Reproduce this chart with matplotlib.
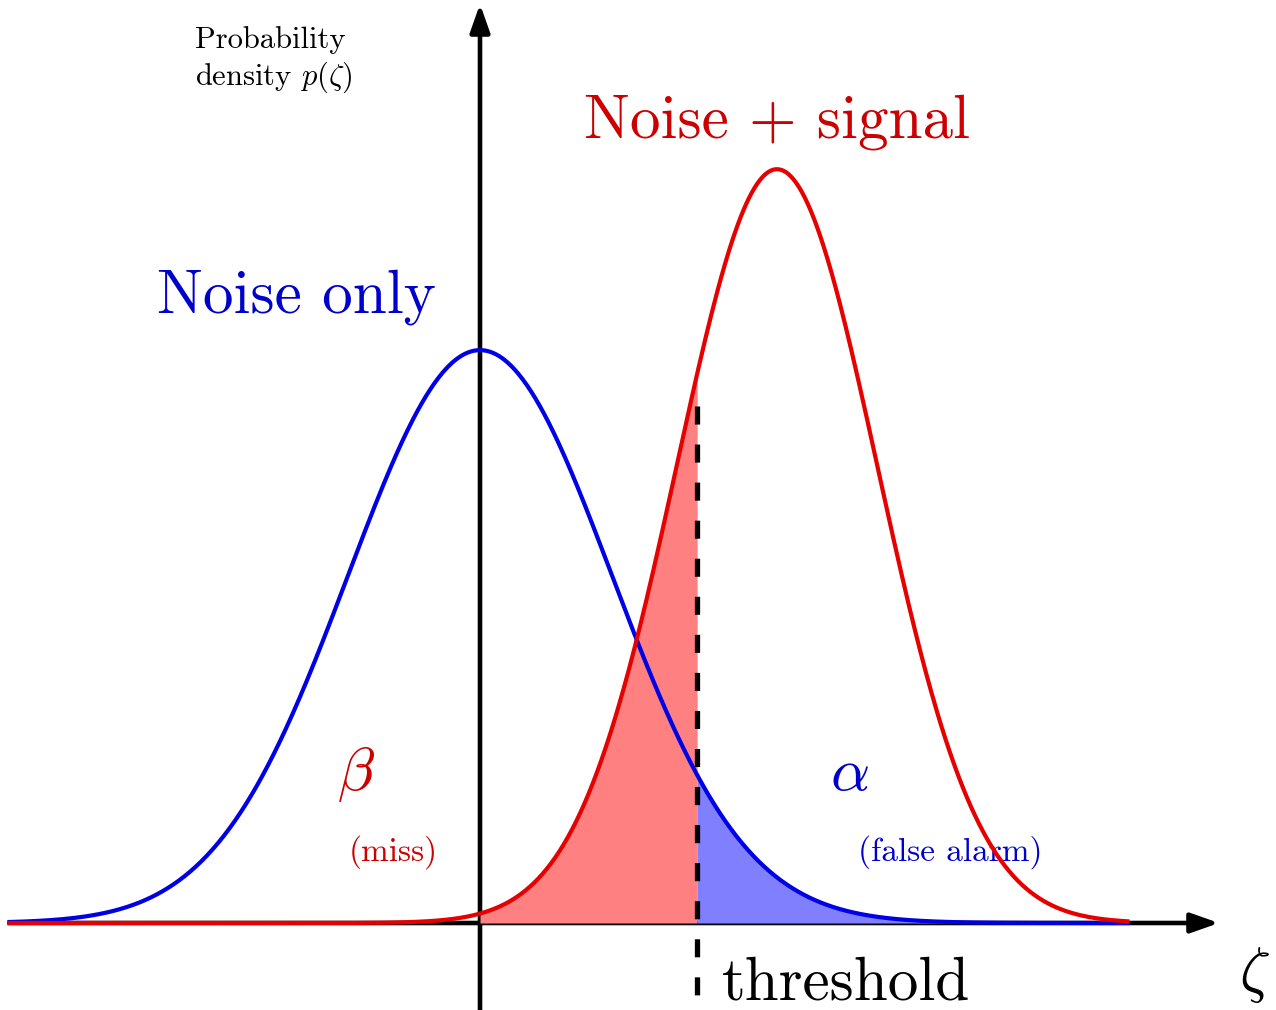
import numpy as np
import matplotlib.pyplot as plt
from matplotlib.patches import FancyArrowPatch

plt.rcParams['font.family'] = 'cmr10'
plt.rcParams['mathtext.fontset'] = 'cm'
plt.rcParams['axes.formatter.use_mathtext'] = True
plt.rcParams['lines.scale_dashes'] = False

# distributions (in units of the noise standard deviation)
noise_mean, noise_std = 0.0, 1.0
signal_mean, signal_std = 2.25, 0.76
threshold = 1.645
x_start, x_end = -3.58, 4.92

# pixel layout of the reference (origin of the axes, scales)
W, H = 1276, 1010
ox, oy = 480, 923
sx, sy = 132.0, 1436.0


def gauss(x, mu, sd):
    return np.exp(-0.5 * ((x - mu) / sd) ** 2) / (sd * np.sqrt(2 * np.pi))


def px(x, y):
    # pixel position -> data position
    return (x - ox) / sx, (oy - y) / sy


fig = plt.figure(figsize=(W / 100, H / 100), dpi=100)
ax = fig.add_axes([0, 0, 1, 1])
ax.set_xlim(px(0, 0)[0], px(W, 0)[0])
ax.set_ylim(px(0, H)[1], px(0, 0)[1])
ax.axis('off')

red_line, blue_line = '#e60000', '#0000e6'
red_text, blue_text = '#cc0000', '#0000cc'

# axes with arrows
def arrow(p0, p1):
    a = FancyArrowPatch(p0, p1, arrowstyle='-|>,head_length=0.85,head_width=0.3',
                        mutation_scale=20, lw=3.3, color='black',
                        shrinkA=0, shrinkB=0, capstyle='butt', zorder=1)
    ax.add_patch(a)

arrow((x_start, 0), px(1219, oy))
arrow(px(ox, H + 5), px(ox, 4))

x = np.linspace(x_start, x_end, 800)
blue = gauss(x, noise_mean, noise_std)
red = gauss(x, signal_mean, signal_std)

xr = np.linspace(0, threshold, 300)
ax.fill_between(xr, 0, gauss(xr, signal_mean, signal_std), color='#ff8080', lw=0, zorder=2)
xb = np.linspace(threshold, x_end, 300)
ax.fill_between(xb, 0, gauss(xb, noise_mean, noise_std), color='#8080ff', lw=0, zorder=2)

# labels (behind the curves)
big = 44
small = 24
ax.text(*px(296, 313), 'Noise only', color=blue_text, fontsize=big, ha='center', va='baseline', zorder=3)
ax.text(*px(777, 138), 'Noise + signal', color=red_text, fontsize=big, ha='center', va='baseline', zorder=3)
ax.text(*px(356, 790), r'$\beta$', color=red_text, fontsize=big, ha='center', va='baseline', zorder=3)
ax.text(*px(849, 790), r'$\alpha$', color=blue_text, fontsize=big, ha='center', va='baseline', zorder=3)
ax.text(*px(393, 861), '(miss)', color=red_text, fontsize=small, ha='center', va='baseline', zorder=3)
ax.text(*px(950, 861), '(false alarm)', color=blue_text, fontsize=small, ha='center', va='baseline', zorder=3)
ax.text(*px(846, 1000), 'threshold', color='black', fontsize=big, ha='center', va='baseline', zorder=3)
ax.text(*px(1254, 990), r'$\zeta$', color='black', fontsize=big, ha='center', va='baseline', zorder=3)
ax.text(*px(195, 48), 'Probability', color='black', fontsize=22, ha='left', va='baseline', zorder=3)
ax.text(*px(195, 85), r'density $p(\zeta)$', color='black', fontsize=22, ha='left', va='baseline', zorder=3)

ax.plot(x, blue, color=blue_line, lw=3.0, solid_capstyle='butt', zorder=4)
ax.plot(x, red, color=red_line, lw=3.0, solid_capstyle='butt', zorder=5)

# threshold line, drawn top -> bottom so the pattern starts with a dash
ax.plot([threshold, threshold], [px(0, 406)[1], px(0, H + 10)[1]], color='black',
        lw=3.8, dashes=(13, 14.4), dash_capstyle='butt', zorder=6)

fig.savefig('out.png', dpi=100)
